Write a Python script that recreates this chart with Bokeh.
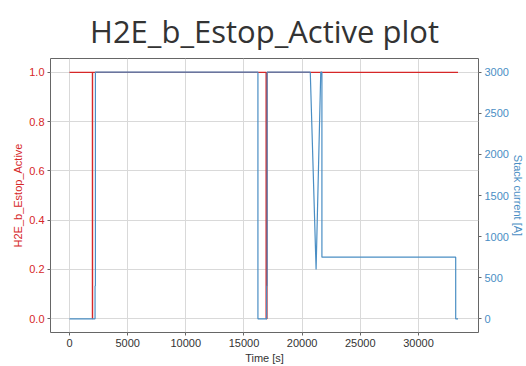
from bokeh.plotting import figure
from bokeh.models import Range1d, LinearAxis, SingleIntervalTicker, FixedTicker, NumeralTickFormatter
from bokeh.embed import file_html
from bokeh.resources import INLINE

# Data
estop_time = [0, 1970, 1970, 1990, 1990, 16900, 16900, 16980, 16980, 33400]
estop_value = [1, 1, 0, 0, 1, 1, 0, 0, 1, 1]

current_time = [0, 2200, 2200, 2230, 2230, 16200, 16200, 16950, 16950, 16990, 16990,
                20700, 21200, 21600, 21700, 21700, 33200, 33200, 33400]
current_value = [0, 0, 400, 400, 3000, 3000, 0, 0, 400, 400, 3000,
                 3000, 600, 3000, 3000, 750, 750, 0, 0]

x_ticks = [0, 5000, 10000, 15000, 20000, 25000, 30000]

title_text = "H2E_b_Estop_Active plot"
left_label = "H2E_b_Estop_Active"
right_label = "Stack current [A]"
x_label = "Time [s]"

RED = "#d62728"
BLUE = "#4a8ec4"
FONT = "Liberation Sans"

p = figure(width=526, height=366, output_backend="svg", toolbar_location=None,
           x_range=Range1d(-1630, 35160), y_range=Range1d(-0.056, 1.056),
           min_border_left=50, min_border_right=47, min_border_top=58, min_border_bottom=29)
p.extra_y_ranges = {"cur": Range1d(-167, 3167)}

p.title.text = title_text
p.title.align = "center"
p.title.text_font = "Open Sans"
p.title.text_font_size = "31px"
p.title.text_font_style = "normal"
p.title.text_color = "#333333"
p.title.standoff = 13

p.line(estop_time, estop_value, color=RED, line_width=1.2)
p.line(current_time, current_value, color=BLUE, line_width=1.2, y_range_name="cur")

p.background_fill_color = "white"
p.border_fill_color = "white"
p.outline_line_color = "#666666"
p.outline_line_width = 1

# x axis
xa = p.xaxis[0]
xa.ticker = FixedTicker(ticks=x_ticks)
xa.formatter = NumeralTickFormatter(format="0")
xa.axis_label = x_label
xa.axis_label_text_font = FONT
xa.axis_label_text_font_size = "11px"
xa.axis_label_text_font_style = "normal"
xa.axis_label_text_color = "#333333"
xa.axis_label_standoff = 2
xa.major_label_text_font = FONT
xa.major_label_text_font_size = "11px"
xa.major_label_text_color = "#333333"
xa.major_label_standoff = 3
xa.axis_line_color = None
xa.major_tick_in = 0
xa.major_tick_out = 3
xa.major_tick_line_color = "#666666"
xa.minor_tick_line_color = None

# left axis
ya = p.yaxis[0]
ya.ticker = SingleIntervalTicker(interval=0.2, num_minor_ticks=0)
ya.formatter = NumeralTickFormatter(format="0.0")
ya.axis_label = left_label
ya.axis_label_text_font = FONT
ya.axis_label_text_font_size = "11px"
ya.axis_label_text_font_style = "normal"
ya.axis_label_text_color = RED
ya.axis_label_standoff = 2
ya.major_label_text_font = FONT
ya.major_label_text_font_size = "11px"
ya.major_label_text_color = RED
ya.major_label_standoff = 3
ya.axis_line_color = None
ya.major_tick_in = 0
ya.major_tick_out = 3
ya.major_tick_line_color = "#666666"
ya.minor_tick_line_color = None

# right axis
ra = LinearAxis(y_range_name="cur")
ra.ticker = SingleIntervalTicker(interval=500, num_minor_ticks=0)
ra.formatter = NumeralTickFormatter(format="0")
ra.axis_label = right_label
ra.axis_label_text_font = FONT
ra.axis_label_text_font_size = "11px"
ra.axis_label_text_font_style = "normal"
ra.axis_label_text_color = BLUE
ra.axis_label_standoff = 0
ra.major_label_text_font = FONT
ra.major_label_text_font_size = "11px"
ra.major_label_text_color = BLUE
ra.major_label_standoff = 3
ra.axis_line_color = None
ra.major_tick_in = 0
ra.major_tick_out = 3
ra.major_tick_line_color = "#666666"
ra.minor_tick_line_color = None
p.add_layout(ra, "right")

p.xgrid.grid_line_color = "#d9d9d9"
p.ygrid.grid_line_color = "#d9d9d9"
p.xgrid.ticker = xa.ticker
p.ygrid.ticker = ya.ticker

open("out.html", "w").write(file_html(p, INLINE))
